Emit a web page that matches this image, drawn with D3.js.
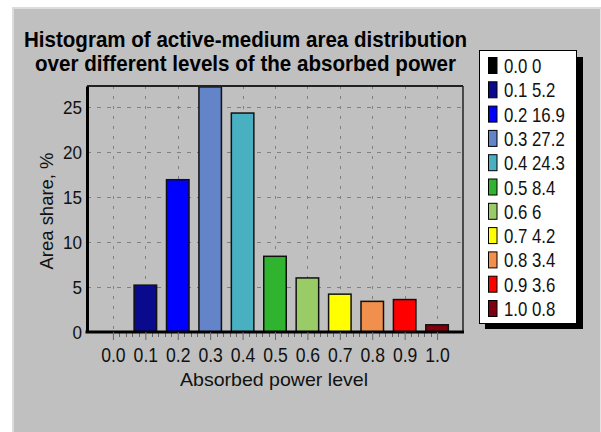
<!DOCTYPE html>
<html lang="en">
<head>
  <meta charset="UTF-8">
  <title>Absorbed power histogram</title>
  <style>
    body { margin: 0; background: #fff; }
    svg { display: block; font-family: "Liberation Sans", Arial, sans-serif; }
  </style>
</head>
<body>
  <svg id="chart" width="601" height="432"></svg>

  <script src="https://d3js.org/d3.v7.min.js"></script>
  <script>
    // data
    const levels = ["0.0", "0.1", "0.2", "0.3", "0.4", "0.5", "0.6", "0.7", "0.8", "0.9", "1.0"];
    const shares = [0, 5.2, 16.9, 27.2, 24.3, 8.4, 6, 4.2, 3.4, 3.6, 0.8];
    const colors = ["#000000", "#0a0a8c", "#0000ff", "#6384c8", "#48b0c0", "#30b430",
                    "#99cc66", "#ffff00", "#f0904c", "#ff0000", "#800010"];
    const yTicks = [0, 5, 10, 15, 20, 25];
    const titleLines = ["Histogram of active-medium area distribution",
                        "over different levels of the absorbed power"];

    const svg = d3.select("#chart");

    // panel frame
    svg.append("rect").attr("width", 601).attr("height", 432).attr("fill", "#ffffff");
    svg.append("rect").attr("x", 12).attr("y", 7).attr("width", 589).attr("height", 425).attr("fill", "#dcdcdc");
    svg.append("rect").attr("x", 14).attr("y", 9).attr("width", 586).attr("height", 423).attr("fill", "#c0c0c0");
    svg.append("rect").attr("x", 600).attr("y", 9).attr("width", 1).attr("height", 423).attr("fill", "#e4e4e4");

    const plot = { left: 87, right: 463, top: 86, bottom: 332 };

    const x = d3.scalePoint()
      .domain(levels)
      .range([plot.left, plot.right])
      .padding(0.8);

    const y = d3.scaleLinear()
      .domain([0, 27.3])
      .range([plot.bottom, plot.top]);

    // fit text to a given width
    function fitWidth(sel, w) {
      sel.attr("textLength", w).attr("lengthAdjust", "spacingAndGlyphs");
    }
    function squeeze(sel, k) {
      sel.each(function () {
        const len = this.getComputedTextLength();
        d3.select(this).attr("textLength", len * k).attr("lengthAdjust", "spacingAndGlyphs");
      });
    }

    // title
    svg.selectAll("text.title")
      .data(titleLines)
      .enter()
      .append("text")
      .attr("class", "title")
      .attr("x", 245.5)
      .attr("y", (d, i) => 47 + i * 23.5)
      .attr("text-anchor", "middle")
      .attr("font-size", "22px")
      .attr("font-weight", "bold")
      .attr("fill", "#000")
      .text(d => d)
      .each(function (d, i) { fitWidth(d3.select(this), i === 0 ? 443 : 421); });

    // grid
    const grid = svg.append("g")
      .attr("stroke", "#808080")
      .attr("stroke-width", 1);

    grid.selectAll("line.h")
      .data(yTicks.filter(t => t > 0))
      .enter()
      .append("line")
      .attr("stroke-dasharray", "4,6")
      .attr("x1", plot.left).attr("x2", plot.right)
      .attr("y1", d => Math.round(y(d)) + 0.5)
      .attr("y2", d => Math.round(y(d)) + 0.5);

    grid.selectAll("line.v")
      .data(levels)
      .enter()
      .append("line")
      .attr("stroke-dasharray", "3,7")
      .attr("x1", d => Math.round(x(d)) + 0.5)
      .attr("x2", d => Math.round(x(d)) + 0.5)
      .attr("y1", plot.top)
      .attr("y2", plot.bottom);

    // bars
    const barW = 22.5;
    svg.append("g")
      .selectAll("rect")
      .data(levels)
      .enter()
      .append("rect")
      .attr("x", d => x(d) - barW / 2)
      .attr("y", (d, i) => y(shares[i]))
      .attr("width", barW)
      .attr("height", (d, i) => y(0) - y(shares[i]))
      .attr("fill", (d, i) => colors[i])
      .attr("stroke", "#111")
      .attr("stroke-width", 1.5);

    // plot border (top / right thin, left / bottom thick)
    svg.append("line")
      .attr("x1", plot.left).attr("x2", plot.right)
      .attr("y1", plot.top).attr("y2", plot.top)
      .attr("stroke", "#222").attr("stroke-width", 2);
    svg.append("line")
      .attr("x1", plot.right).attr("x2", plot.right)
      .attr("y1", plot.top).attr("y2", plot.bottom)
      .attr("stroke", "#222").attr("stroke-width", 1.5);

    // y axis
    const yAxis = svg.append("g")
      .attr("transform", `translate(${plot.left},0)`)
      .call(d3.axisLeft(y).tickValues(yTicks).tickSize(0).tickPadding(5));
    yAxis.select(".domain").attr("stroke", "#000").attr("stroke-width", 3);
    yAxis.selectAll("text")
      .attr("font-size", "19px")
      .attr("font-family", "Liberation Sans, Arial, sans-serif")
      .attr("fill", "#111")
      .attr("dy", "0.36em")
      .call(squeeze, 0.9);

    // x axis with minor ticks
    const minor = [];
    levels.forEach((l, i) => {
      for (let k = 1; k < 5; k++) {
        if (i < levels.length - 1) minor.push(x(l) + k * x.step() / 5);
      }
    });
    svg.append("g")
      .selectAll("line")
      .data(minor)
      .enter()
      .append("line")
      .attr("x1", d => Math.round(d) + 0.5).attr("x2", d => Math.round(d) + 0.5)
      .attr("y1", plot.bottom).attr("y2", plot.bottom + 5)
      .attr("stroke", "#666").attr("stroke-width", 1);

    const xAxis = svg.append("g")
      .attr("transform", `translate(0,${plot.bottom})`)
      .call(d3.axisBottom(x).tickSize(8).tickPadding(8).tickSizeOuter(0));
    xAxis.select(".domain")
      .attr("d", `M${plot.left - 1.5},0H${plot.right + 1}`)
      .attr("stroke", "#000").attr("stroke-width", 3);
    xAxis.selectAll(".tick line").attr("stroke", "#666");
    xAxis.selectAll("text")
      .attr("font-size", "20px")
      .attr("font-family", "Liberation Sans, Arial, sans-serif")
      .attr("fill", "#111")
      .attr("y", 16)
      .call(squeeze, 0.88);

    // axis titles
    svg.append("text")
      .attr("x", 274)
      .attr("y", 386)
      .attr("text-anchor", "middle")
      .attr("font-size", "19px")
      .attr("fill", "#111")
      .text("Absorbed power level")
      .call(fitWidth, 188);

    svg.append("text")
      .attr("transform", "translate(53,211) rotate(-90)")
      .attr("text-anchor", "middle")
      .attr("font-size", "19px")
      .attr("fill", "#111")
      .text("Area share, %")
      .call(fitWidth, 117);

    // legend
    const legend = svg.append("g");
    legend.append("rect")
      .attr("x", 485).attr("y", 57).attr("width", 98).attr("height", 272)
      .attr("fill", "#000");
    legend.append("rect")
      .attr("x", 479.5).attr("y", 50.5).attr("width", 97).attr("height", 273)
      .attr("fill", "#fff").attr("stroke", "#000").attr("stroke-width", 1);

    const item = legend.selectAll("g.item")
      .data(levels)
      .enter()
      .append("g")
      .attr("class", "item")
      .attr("transform", (d, i) => `translate(0,${73 + i * 24.3})`);
    item.append("rect")
      .attr("x", 488.5).attr("y", -15.5).attr("width", 8.5).attr("height", 16)
      .attr("fill", (d, i) => colors[i])
      .attr("stroke", "#000").attr("stroke-width", 1);
    item.append("text")
      .attr("x", 504)
      .attr("y", 0)
      .attr("font-size", "21px")
      .attr("fill", "#111")
      .text((d, i) => `${d} ${shares[i]}`)
      .call(squeeze, 0.8);
  </script>
</body>
</html>
